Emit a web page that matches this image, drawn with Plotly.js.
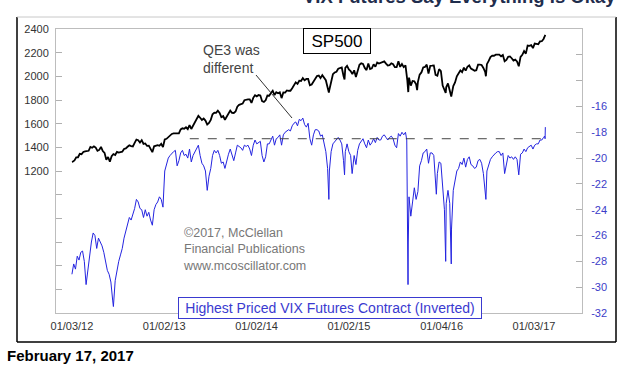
<!DOCTYPE html>
<html>
<head>
<meta charset="utf-8">
<script src="https://cdn.plot.ly/plotly-3.0.1.min.js"></script>
<style>
html,body{margin:0;padding:0;background:#fff;}
#chart{width:638px;height:369px;}
</style>
</head>
<body>
<div id="chart"></div>
<script>
// ---------------- DATA ----------------
const spDates = [
'2012-01-03','2012-01-06','2012-01-13','2012-01-20','2012-01-27','2012-02-03','2012-02-10','2012-02-17','2012-02-24','2012-03-02','2012-03-09','2012-03-16','2012-03-23','2012-03-30','2012-04-06','2012-04-13','2012-04-20','2012-04-27','2012-05-04','2012-05-11','2012-05-18','2012-05-25','2012-06-01','2012-06-08','2012-06-15','2012-06-22','2012-06-29','2012-07-06','2012-07-13','2012-07-20','2012-07-27','2012-08-03','2012-08-10','2012-08-17','2012-08-24','2012-08-31','2012-09-07','2012-09-14','2012-09-21','2012-09-28','2012-10-05','2012-10-12','2012-10-19','2012-10-26','2012-11-02','2012-11-09','2012-11-16','2012-11-23','2012-11-30','2012-12-07','2012-12-14','2012-12-21','2012-12-28',
'2013-01-04','2013-01-11','2013-01-18','2013-01-25','2013-02-01','2013-02-08','2013-02-15','2013-02-22','2013-03-01','2013-03-08','2013-03-15','2013-03-22','2013-03-29','2013-04-05','2013-04-12','2013-04-19','2013-04-26','2013-05-03','2013-05-10','2013-05-17','2013-05-24','2013-05-31','2013-06-07','2013-06-14','2013-06-21','2013-06-28','2013-07-05','2013-07-12','2013-07-19','2013-07-26','2013-08-02','2013-08-09','2013-08-16','2013-08-23','2013-08-30','2013-09-06','2013-09-13','2013-09-20','2013-09-27','2013-10-04','2013-10-11','2013-10-18','2013-10-25','2013-11-01','2013-11-08','2013-11-15','2013-11-22','2013-11-29','2013-12-06','2013-12-13','2013-12-20','2013-12-27',
'2014-01-03','2014-01-10','2014-01-17','2014-01-24','2014-01-31','2014-02-07','2014-02-14','2014-02-21','2014-02-28','2014-03-07','2014-03-14','2014-03-21','2014-03-28','2014-04-04','2014-04-11','2014-04-18','2014-04-25','2014-05-02','2014-05-09','2014-05-16','2014-05-23','2014-05-30','2014-06-06','2014-06-13','2014-06-20','2014-06-27','2014-07-04','2014-07-11','2014-07-18','2014-07-25','2014-08-01','2014-08-08','2014-08-15','2014-08-22','2014-08-29','2014-09-05','2014-09-12','2014-09-19','2014-09-26','2014-10-03','2014-10-10','2014-10-15','2014-10-17','2014-10-24','2014-10-31','2014-11-07','2014-11-14','2014-11-21','2014-11-28','2014-12-05','2014-12-12','2014-12-16','2014-12-19','2014-12-26',
'2015-01-02','2015-01-09','2015-01-16','2015-01-23','2015-01-30','2015-02-06','2015-02-13','2015-02-20','2015-02-27','2015-03-06','2015-03-13','2015-03-20','2015-03-27','2015-04-03','2015-04-10','2015-04-17','2015-04-24','2015-05-01','2015-05-08','2015-05-15','2015-05-22','2015-05-29','2015-06-05','2015-06-12','2015-06-19','2015-06-26','2015-07-03','2015-07-10','2015-07-17','2015-07-24','2015-07-31','2015-08-07','2015-08-14','2015-08-21','2015-08-25','2015-08-28','2015-09-04','2015-09-11','2015-09-18','2015-09-25','2015-09-29','2015-10-02','2015-10-09','2015-10-16','2015-10-23','2015-10-30','2015-11-06','2015-11-13','2015-11-20','2015-11-27','2015-12-04','2015-12-11','2015-12-18','2015-12-25',
'2016-01-01','2016-01-08','2016-01-15','2016-01-20','2016-01-22','2016-01-29','2016-02-05','2016-02-11','2016-02-19','2016-02-26','2016-03-04','2016-03-11','2016-03-18','2016-03-25','2016-04-01','2016-04-08','2016-04-15','2016-04-22','2016-04-29','2016-05-06','2016-05-13','2016-05-20','2016-05-27','2016-06-03','2016-06-10','2016-06-17','2016-06-24','2016-06-27','2016-07-01','2016-07-08','2016-07-15','2016-07-22','2016-07-29','2016-08-05','2016-08-12','2016-08-19','2016-08-26','2016-09-02','2016-09-09','2016-09-16','2016-09-23','2016-09-30','2016-10-07','2016-10-14','2016-10-21','2016-10-28','2016-11-04','2016-11-11','2016-11-18','2016-11-25','2016-12-02','2016-12-09','2016-12-16','2016-12-23','2016-12-30',
'2017-01-06','2017-01-13','2017-01-20','2017-01-27','2017-02-03','2017-02-10','2017-02-17'
];
const spValues = [
1277,1278,1289,1315,1316,1345,1342,1361,1366,1370,1371,1404,1397,1408,1398,1370,1378,1403,1369,1353,1295,1318,1278,1325,1343,1335,1362,1355,1357,1363,1386,1391,1405,1418,1411,1407,1438,1466,1460,1441,1461,1429,1433,1412,1414,1380,1359,1409,1416,1418,1413,1430,1402,
1466,1472,1486,1503,1513,1518,1520,1516,1518,1551,1561,1557,1569,1553,1588,1555,1582,1614,1633,1667,1650,1631,1643,1626,1593,1606,1632,1680,1692,1691,1709,1691,1655,1664,1633,1655,1688,1710,1691,1690,1703,1744,1759,1762,1770,1798,1804,1806,1805,1775,1818,1841,
1831,1842,1838,1790,1783,1797,1838,1836,1859,1878,1841,1866,1857,1865,1816,1864,1863,1881,1878,1878,1900,1924,1949,1936,1963,1961,1985,1967,1978,1978,1925,1931,1955,1988,2003,2007,1985,2010,1982,1967,1906,1862,1887,1964,2018,2032,2039,2064,2068,2075,2003,1973,2071,2089,
2058,2045,2019,2051,1995,2055,2097,2110,2105,2071,2053,2108,2061,2067,2102,2081,2117,2108,2116,2123,2126,2107,2092,2094,2110,2102,2077,2077,2127,2080,2104,2078,2092,1971,1867,1989,1921,1961,1958,1932,1884,1951,2015,2033,2075,2079,2099,2023,2089,2090,2092,2012,2005,2061,
2044,1922,1880,1859,1907,1940,1880,1829,1918,1948,2000,2022,2050,2035,2073,2048,2081,2092,2065,2057,2047,2052,2099,2099,2096,2071,2037,2001,2103,2130,2162,2175,2174,2183,2184,2184,2169,2180,2128,2139,2165,2168,2153,2133,2141,2126,2085,2164,2182,2213,2192,2260,2258,2264,2239,
2277,2275,2271,2295,2297,2316,2351
];

const vixDates = [
'2012-01-03','2012-01-10','2012-01-17','2012-01-24','2012-01-31','2012-02-07','2012-02-14','2012-02-21','2012-02-28','2012-03-06','2012-03-13','2012-03-20','2012-03-27','2012-04-03','2012-04-10','2012-04-17','2012-04-24','2012-05-01','2012-05-08','2012-05-15','2012-05-22','2012-05-29','2012-06-05','2012-06-12','2012-06-15','2012-06-22','2012-06-29','2012-07-06','2012-07-13','2012-07-20','2012-07-27','2012-08-03','2012-08-10','2012-08-17','2012-08-24','2012-08-31','2012-09-07','2012-09-14','2012-09-21','2012-09-28','2012-10-05','2012-10-12','2012-10-19','2012-10-26','2012-11-02','2012-11-09','2012-11-16','2012-11-23','2012-11-30','2012-12-07','2012-12-14','2012-12-21','2012-12-28',
'2013-01-04','2013-01-11','2013-01-18','2013-01-25','2013-02-01','2013-02-08','2013-02-15','2013-02-22','2013-03-01','2013-03-08','2013-03-15','2013-03-22','2013-03-29','2013-04-05','2013-04-12','2013-04-19','2013-04-26','2013-05-03','2013-05-10','2013-05-17','2013-05-24','2013-05-31','2013-06-07','2013-06-14','2013-06-21','2013-06-28','2013-07-05','2013-07-12','2013-07-19','2013-07-26','2013-08-02','2013-08-09','2013-08-16','2013-08-23','2013-08-30','2013-09-06','2013-09-13','2013-09-20','2013-09-27','2013-10-04','2013-10-11','2013-10-18','2013-10-25','2013-11-01','2013-11-08','2013-11-15','2013-11-22','2013-11-29','2013-12-06','2013-12-13','2013-12-20','2013-12-27',
'2014-01-03','2014-01-10','2014-01-17','2014-01-24','2014-01-31','2014-02-07','2014-02-14','2014-02-21','2014-02-28','2014-03-07','2014-03-14','2014-03-21','2014-03-28','2014-04-04','2014-04-11','2014-04-18','2014-04-25','2014-05-02','2014-05-09','2014-05-16','2014-05-23','2014-05-30','2014-06-06','2014-06-13','2014-06-20','2014-06-27','2014-07-04','2014-07-11','2014-07-18','2014-07-25','2014-08-01','2014-08-08','2014-08-15','2014-08-22','2014-08-29','2014-09-05','2014-09-12','2014-09-19','2014-09-26','2014-10-03','2014-10-10','2014-10-15','2014-10-17','2014-10-24','2014-10-31','2014-11-07','2014-11-14','2014-11-21','2014-11-28','2014-12-05','2014-12-12','2014-12-16','2014-12-19','2014-12-26',
'2015-01-02','2015-01-09','2015-01-15','2015-01-23','2015-01-30','2015-02-06','2015-02-13','2015-02-20','2015-02-27','2015-03-06','2015-03-13','2015-03-20','2015-03-27','2015-04-03','2015-04-10','2015-04-17','2015-04-24','2015-05-01','2015-05-08','2015-05-15','2015-05-22','2015-05-29','2015-06-05','2015-06-12','2015-06-19','2015-06-26','2015-07-03','2015-07-10','2015-07-17','2015-07-24','2015-07-31','2015-08-07','2015-08-14','2015-08-19','2015-08-21','2015-08-24','2015-08-25','2015-08-28','2015-09-04','2015-09-11','2015-09-18','2015-09-25','2015-10-02','2015-10-09','2015-10-16','2015-10-23','2015-10-30','2015-11-06','2015-11-13','2015-11-20','2015-11-27','2015-12-04','2015-12-11','2015-12-14','2015-12-18','2015-12-25',
'2016-01-01','2016-01-08','2016-01-15','2016-01-20','2016-01-22','2016-01-29','2016-02-05','2016-02-11','2016-02-12','2016-02-19','2016-02-26','2016-03-04','2016-03-11','2016-03-18','2016-03-25','2016-04-01','2016-04-08','2016-04-15','2016-04-22','2016-04-29','2016-05-06','2016-05-13','2016-05-20','2016-05-27','2016-06-03','2016-06-10','2016-06-17','2016-06-24','2016-06-27','2016-07-01','2016-07-08','2016-07-15','2016-07-22','2016-07-29','2016-08-05','2016-08-12','2016-08-19','2016-08-26','2016-09-02','2016-09-09','2016-09-16','2016-09-23','2016-09-30','2016-10-07','2016-10-14','2016-10-21','2016-10-28','2016-11-04','2016-11-11','2016-11-18','2016-11-25','2016-12-02','2016-12-09','2016-12-16','2016-12-23','2016-12-30',
'2017-01-06','2017-01-13','2017-01-20','2017-01-27','2017-02-03','2017-02-10','2017-02-14','2017-02-16','2017-02-17'
];
const vixValues = [
-29.0,-28.2,-28.6,-27.6,-27.9,-27.3,-27.2,-28.0,-29.8,-28.6,-27.2,-26.5,-25.8,-26.0,-27.0,-26.2,-26.5,-26.8,-27.3,-27.9,-28.7,-29.0,-29.6,-31.0,-31.5,-29.5,-28.6,-28.0,-27.5,-27.0,-26.2,-25.7,-25.2,-24.6,-24.8,-24.4,-23.9,-23.2,-23.4,-23.9,-24.0,-24.6,-24.0,-24.5,-24.2,-24.8,-25.2,-24.0,-23.6,-23.4,-23.0,-23.2,-23.8,
-21.0,-20.4,-20.0,-19.8,-19.6,-19.5,-19.4,-20.6,-20.2,-19.6,-19.4,-19.8,-19.7,-20.0,-19.3,-20.3,-19.8,-19.5,-19.2,-19.0,-19.8,-20.4,-20.6,-21.0,-22.5,-21.4,-20.8,-19.8,-19.4,-19.6,-19.4,-19.8,-20.4,-20.3,-20.8,-20.2,-19.7,-19.3,-19.8,-20.2,-19.6,-19.0,-19.1,-19.2,-19.4,-19.0,-19.1,-19.0,-19.3,-19.8,-19.0,-18.6,
-18.9,-18.8,-18.7,-19.8,-20.3,-19.9,-18.9,-18.9,-18.6,-18.3,-19.0,-18.5,-18.4,-18.2,-19.0,-18.2,-18.0,-17.9,-17.8,-17.9,-17.5,-17.3,-17.2,-17.5,-17.0,-17.1,-16.9,-17.4,-17.6,-17.3,-18.5,-19.0,-18.2,-17.8,-17.8,-17.9,-18.3,-18.2,-18.8,-19.5,-20.8,-23.2,-21.0,-19.5,-18.9,-18.7,-18.5,-18.4,-18.6,-18.9,-20.2,-21.3,-19.5,-18.9,
-19.5,-19.8,-21.2,-19.8,-20.5,-19.4,-18.9,-18.7,-18.5,-18.9,-19.2,-18.6,-19.0,-18.8,-18.5,-18.8,-18.4,-18.6,-18.6,-18.3,-18.2,-18.4,-18.6,-18.4,-18.3,-18.5,-19.0,-19.2,-18.1,-18.3,-18.0,-18.2,-18.0,-18.6,-22.0,-29.8,-26.5,-23.0,-24.5,-23.4,-22.3,-23.2,-22.6,-20.6,-20.2,-19.6,-19.5,-19.3,-20.4,-19.6,-19.6,-19.8,-21.5,-22.8,-21.2,-20.3,
-20.4,-22.4,-24.0,-28.0,-23.5,-22.5,-23.5,-28.2,-25.5,-22.5,-21.8,-21.0,-20.8,-20.3,-20.5,-20.0,-20.7,-20.1,-19.9,-20.5,-20.6,-20.8,-20.7,-20.2,-20.1,-20.4,-21.2,-22.8,-23.2,-21.0,-20.6,-20.1,-19.9,-19.7,-19.6,-19.5,-19.5,-19.8,-19.6,-21.2,-20.4,-19.8,-20.0,-19.9,-20.1,-19.9,-20.1,-21.3,-19.7,-19.6,-19.3,-19.5,-19.2,-19.1,-19.0,-19.3,
-19.0,-18.9,-18.9,-18.6,-18.6,-18.4,-18.3,-18.5,-17.6
];

// reference level (dashed) and its span
const refLevel = -18.5;
const refSpan = ['2013-04-13','2017-02-20'];

// axis ticks
const xTickVals = ['2012-01-03','2013-01-02','2014-01-02','2015-01-02','2016-01-04','2017-01-03'];
const xTickText = ['01/03/12','01/02/13','01/02/14','01/02/15','01/04/16','01/03/17'];
const yTickVals = [200,400,600,800,1000,1200,1400,1600,1800,2000,2200,2400];
const yTickText = ['','','','','','1200','1400','1600','1800','2000','2200','2400'];
const y2TickVals = [-32,-30,-28,-26,-24,-22,-20,-18,-16,-14,-12];
const y2TickText = ['-32','-30','-28','-26','-24','-22','-20','-18','-16','',''];

// ---------------- CHART ----------------
const FONT = 'Liberation Sans, Arial, sans-serif';
const W = 638, H = 369, L = 56, R = 582, T = 29, B = 313;
const px = v => (v - L) / (R - L);
const py = v => (B - v) / (B - T);

const traces = [
  {x: spDates, y: spValues, type: 'scatter', mode: 'lines', yaxis: 'y',
   line: {color: '#000000', width: 1.8}, hoverinfo: 'skip'},
  {x: vixDates, y: vixValues, type: 'scatter', mode: 'lines', yaxis: 'y2',
   line: {color: '#2424e0', width: 1}, hoverinfo: 'skip'}
];

const layout = {
  width: W, height: H,
  margin: {l: L, r: W - R, t: T, b: H - B, pad: 0},
  paper_bgcolor: '#ffffff', plot_bgcolor: '#ffffff',
  showlegend: false,
  font: {family: FONT, size: 11, color: '#333'},
  xaxis: {
    type: 'date', range: ['2011-11-01', '2017-07-12'],
    tickmode: 'array', tickvals: xTickVals, ticktext: xTickText,
    ticks: '', showgrid: false, zeroline: false,
    showline: true, mirror: true, linecolor: '#bdbdbd', linewidth: 1,
    tickfont: {family: FONT, size: 11, color: '#333'}, ticklabelstandoff: 3
  },
  yaxis: {
    range: [0, 2400], tickmode: 'array', tickvals: yTickVals, ticktext: yTickText,
    ticks: 'inside', ticklen: 6, tickcolor: '#b0b0b0', showgrid: false, zeroline: false,
    showline: true, linecolor: '#bdbdbd', linewidth: 1,
    tickfont: {family: FONT, size: 11, color: '#333'}, ticklabelstandoff: 4
  },
  yaxis2: {
    overlaying: 'y', side: 'right', range: [-32, -10],
    tickmode: 'array', tickvals: y2TickVals, ticktext: y2TickText,
    ticks: 'inside', ticklen: 6, tickcolor: '#b0b0b0', showgrid: false, zeroline: false,
    showline: true, linecolor: '#bdbdbd', linewidth: 1,
    tickfont: {family: FONT, size: 11, color: '#3c3cc8'}, ticklabelstandoff: 6
  },
  shapes: [
    // outer frame
    {type: 'line', xref: 'paper', yref: 'paper', x0: px(17), x1: px(17), y0: py(342), y1: py(17), line: {color: '#000', width: 1.5}},
    {type: 'line', xref: 'paper', yref: 'paper', x0: px(616), x1: px(616), y0: py(342), y1: py(17), line: {color: '#000', width: 1.5}},
    {type: 'line', xref: 'paper', yref: 'paper', x0: px(17), x1: px(616), y0: py(342), y1: py(342), line: {color: '#000', width: 1.5}},
    {type: 'line', xref: 'paper', yref: 'paper', x0: px(17), x1: px(616), y0: py(17), y1: py(17), line: {color: '#c8c8c8', width: 1}},
    // QE3 leader
    {type: 'line', xref: 'paper', yref: 'paper', x0: px(256), y0: py(75), x1: px(292), y1: py(118), line: {color: '#333', width: 1}},
    // dashed reference level
    {type: 'line', xref: 'x', yref: 'y2', x0: refSpan[0], x1: refSpan[1], y0: refLevel, y1: refLevel, line: {color: '#444', width: 1, dash: 'dash'}}
  ],
  annotations: [
    {xref: 'paper', yref: 'paper', x: px(336.5), y: py(41), text: 'SP500', showarrow: false,
     font: {family: FONT, size: 17, color: '#000'}, bordercolor: '#000', borderwidth: 1, bgcolor: '#fff',
     width: 64, height: 22, xanchor: 'center', yanchor: 'middle'},
    {xref: 'paper', yref: 'paper', x: px(201), y: py(40), text: 'QE3 was<br>different', showarrow: false,
     align: 'left', xanchor: 'left', yanchor: 'top', font: {family: FONT, size: 14, color: '#444'}},
    {xref: 'paper', yref: 'paper', x: px(181), y: py(224), text: '©2017, McClellan<br>Financial Publications<br>www.mcoscillator.com', showarrow: false,
     align: 'left', xanchor: 'left', yanchor: 'top', font: {family: FONT, size: 12.5, color: '#777'}},
    {xref: 'paper', yref: 'paper', x: px(330), y: py(307.5), text: 'Highest Priced VIX Futures Contract (Inverted)', showarrow: false,
     font: {family: FONT, size: 14, color: '#3a3ad0'}, bordercolor: '#3a3ad0', borderwidth: 1, bgcolor: '#fff',
     width: 300, height: 18, xanchor: 'center', yanchor: 'middle'},
    {xref: 'paper', yref: 'paper', x: px(5), y: py(345), text: '<b>February 17, 2017</b>', showarrow: false,
     xanchor: 'left', yanchor: 'top', font: {family: FONT, size: 15, color: '#000'}},
    {xref: 'paper', yref: 'paper', x: px(459), y: py(9), text: '<b>VIX Futures Say Everything Is Okay</b>', showarrow: false,
     xanchor: 'center', yanchor: 'bottom', font: {family: FONT, size: 18.5, color: '#1f2d4d'}}
  ]
};

Plotly.newPlot('chart', traces, layout, {staticPlot: true, displayModeBar: false});
</script>
</body>
</html>
